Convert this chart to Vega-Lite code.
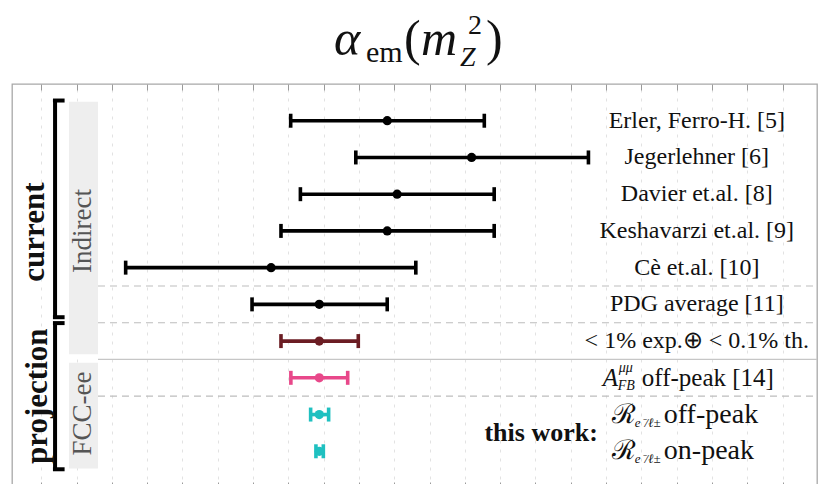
{
  "$schema": "https://vega.github.io/schema/vega-lite/v6.json",
  "width": 805,
  "height": 404,
  "autosize": {"type": "none"},
  "padding": {"left": 12, "top": 84, "right": 2, "bottom": 0},
  "background": "#ffffff",
  "config": {"view": {"stroke": "#a8a8a8", "strokeWidth": 1.3}},
  "resolve": {"axis": {"x": "independent"}},
  "datasets": {
    "est": [
      {"row": 1, "label": "Erler, Ferro-H. [5]", "kind": "current", "lo": 7.065, "mid": 9.80, "hi": 12.55},
      {"row": 2, "label": "Jegerlehner [6]", "kind": "current", "lo": 8.91, "mid": 12.19, "hi": 15.50},
      {"row": 3, "label": "Davier et.al. [8]", "kind": "current", "lo": 7.34, "mid": 10.08, "hi": 12.83},
      {"row": 4, "label": "Keshavarzi et.al. [9]", "kind": "current", "lo": 6.79, "mid": 9.80, "hi": 12.83},
      {"row": 5, "label": "Cè et.al. [10]", "kind": "current", "lo": 2.39, "mid": 6.51, "hi": 10.61},
      {"row": 6, "label": "PDG average [11]", "kind": "current", "lo": 5.97, "mid": 7.875, "hi": 9.80},
      {"row": 7, "label": "< 1% exp.⊕ < 0.1% th.", "kind": "target", "lo": 6.79, "mid": 7.875, "hi": 8.98},
      {"row": 8, "label": "off-peak [14]", "kind": "afb", "lo": 7.07, "mid": 7.875, "hi": 8.68},
      {"row": 9, "label": "off-peak", "kind": "thiswork", "lo": 7.63, "mid": 7.875, "hi": 8.14},
      {"row": 10, "label": "on-peak", "kind": "thiswork", "lo": 7.78, "mid": 7.875, "hi": 7.99}
    ],
    "boxes": [
      {"group": "Indirect", "from": 0.48, "to": 7.36},
      {"group": "FCC-ee", "from": 7.59, "to": 10.47}
    ],
    "brackets": [
      {"group": "current", "from": 0.45, "to": 6.35},
      {"group": "projection", "from": 6.51, "to": 10.49}
    ],
    "dashsep": [{"between": 5.5}, {"between": 6.5}, {"between": 8.5}],
    "solidsep": [{"between": 7.5}],
    "one": [{}]
  },
  "layer": [
    {
      "data": {"name": "boxes"},
      "mark": {"type": "rect", "fill": "#eeeeee"},
      "encoding": {
        "x": {"datum": 0.785, "type": "quantitative", "scale": {"domain": [-0.83, 21.975], "nice": false, "zero": false}, "axis": null},
        "x2": {"datum": 1.606},
        "y": {"field": "from", "type": "quantitative", "scale": {"domain": [0, 11], "reverse": true, "nice": false, "zero": false}, "axis": null},
        "y2": {"field": "to"}
      }
    },
    {
      "data": {"name": "dashsep"},
      "mark": {"type": "rule", "stroke": "#bdbdbd", "strokeWidth": 1.2, "strokeDash": [7, 5]},
      "encoding": {
        "x": {"datum": 1.606, "type": "quantitative", "scale": {"domain": [-0.83, 21.975], "nice": false, "zero": false}, "axis": null},
        "x2": {"datum": 21.975},
        "y": {"field": "between", "type": "quantitative", "scale": {"domain": [0, 11], "reverse": true, "nice": false, "zero": false}, "axis": null}
      }
    },
    {
      "data": {"name": "solidsep"},
      "mark": {"type": "rule", "stroke": "#c6c6c6", "strokeWidth": 1.3},
      "encoding": {
        "x": {"datum": 1.606, "type": "quantitative", "scale": {"domain": [-0.83, 21.975], "nice": false, "zero": false}, "axis": null},
        "x2": {"datum": 21.975},
        "y": {"field": "between", "type": "quantitative", "scale": {"domain": [0, 11], "reverse": true, "nice": false, "zero": false}, "axis": null}
      }
    },
    {
      "data": {"name": "est"},
      "mark": {"type": "rule", "strokeWidth": 3.6},
      "encoding": {
        "x": {"field": "lo", "type": "quantitative", "scale": {"domain": [-0.83, 21.975], "nice": false, "zero": false},
          "axis": {"orient": "bottom", "values": [0,1,2,3,4,5,6,7,8,9,10,11,12,13,14,15,16,17,18,19,20,21], "labels": false, "domain": false, "ticks": true, "tickSize": -6, "tickColor": "#9a9a9a", "tickWidth": 1, "grid": true, "gridColor": "#e2e2e2", "gridDash": [3, 6], "gridWidth": 1, "title": null}},
        "x2": {"field": "hi"},
        "y": {"field": "row", "type": "quantitative", "scale": {"domain": [0, 11], "reverse": true, "nice": false, "zero": false}, "axis": null},
        "color": {"field": "kind", "type": "nominal", "scale": {"domain": ["current", "target", "afb", "thiswork"], "range": ["#000000", "#6b1d23", "#e8488a", "#1fc0c0"]}, "legend": null}
      }
    },
    {
      "data": {"name": "est"},
      "mark": {"type": "tick", "orient": "vertical", "size": 14, "thickness": 3.6, "opacity": 1},
      "encoding": {
        "x": {"field": "lo", "type": "quantitative", "scale": {"domain": [-0.83, 21.975], "nice": false, "zero": false},
          "axis": {"orient": "top", "values": [0,1,2,3,4,5,6,7,8,9,10,11,12,13,14,15,16,17,18,19,20,21], "labels": false, "domain": false, "ticks": true, "tickSize": -6, "tickColor": "#9a9a9a", "tickWidth": 1, "grid": false, "title": null}},
        "y": {"field": "row", "type": "quantitative", "scale": {"domain": [0, 11], "reverse": true, "nice": false, "zero": false}, "axis": null},
        "color": {"field": "kind", "type": "nominal", "scale": {"domain": ["current", "target", "afb", "thiswork"], "range": ["#000000", "#6b1d23", "#e8488a", "#1fc0c0"]}, "legend": null}
      }
    },
    {
      "data": {"name": "est"},
      "mark": {"type": "tick", "orient": "vertical", "size": 14, "thickness": 3.6, "opacity": 1},
      "encoding": {
        "x": {"field": "hi", "type": "quantitative", "scale": {"domain": [-0.83, 21.975], "nice": false, "zero": false}, "axis": null},
        "y": {"field": "row", "type": "quantitative", "scale": {"domain": [0, 11], "reverse": true, "nice": false, "zero": false}, "axis": null},
        "color": {"field": "kind", "type": "nominal", "scale": {"domain": ["current", "target", "afb", "thiswork"], "range": ["#000000", "#6b1d23", "#e8488a", "#1fc0c0"]}, "legend": null}
      }
    },
    {
      "data": {"name": "est"},
      "mark": {"type": "point", "filled": true, "shape": "circle", "opacity": 1},
      "encoding": {
        "x": {"field": "mid", "type": "quantitative", "scale": {"domain": [-0.83, 21.975], "nice": false, "zero": false}, "axis": null},
        "y": {"field": "row", "type": "quantitative", "scale": {"domain": [0, 11], "reverse": true, "nice": false, "zero": false}, "axis": null},
        "color": {"field": "kind", "type": "nominal", "scale": {"domain": ["current", "target", "afb", "thiswork"], "range": ["#000000", "#6b1d23", "#e8488a", "#1fc0c0"]}, "legend": null},
        "size": {"field": "kind", "type": "nominal", "scale": {"domain": ["current", "target", "afb", "thiswork"], "range": [85, 85, 85, 50]}, "legend": null}
      }
    },
    {
      "data": {"name": "est"},
      "transform": [{"filter": "datum.row <= 7"}],
      "mark": {"type": "text", "font": "Liberation Serif", "fontSize": 24, "align": "center", "baseline": "middle", "color": "#111111"},
      "encoding": {
        "x": {"datum": 18.57, "type": "quantitative", "scale": {"domain": [-0.83, 21.975], "nice": false, "zero": false}, "axis": null},
        "y": {"field": "row", "type": "quantitative", "scale": {"domain": [0, 11], "reverse": true, "nice": false, "zero": false}, "axis": null},
        "text": {"field": "label"}
      }
    },
    {
      "data": {"name": "est"},
      "transform": [{"filter": "datum.row == 8"}],
      "mark": {"type": "text", "text": "A", "font": "Liberation Serif", "fontStyle": "italic", "fontSize": 25, "align": "left", "baseline": "middle", "dx": -94, "color": "#111111"},
      "encoding": {
        "x": {"datum": 18.57, "type": "quantitative", "scale": {"domain": [-0.83, 21.975], "nice": false, "zero": false}, "axis": null},
        "y": {"field": "row", "type": "quantitative", "scale": {"domain": [0, 11], "reverse": true, "nice": false, "zero": false}, "axis": null}
      }
    },
    {
      "data": {"name": "est"},
      "transform": [{"filter": "datum.row == 8"}],
      "mark": {"type": "text", "text": "μμ", "font": "Liberation Serif", "fontStyle": "italic", "fontSize": 14, "align": "left", "baseline": "middle", "dx": -78, "dy": -10, "color": "#111111"},
      "encoding": {
        "x": {"datum": 18.57, "type": "quantitative", "scale": {"domain": [-0.83, 21.975], "nice": false, "zero": false}, "axis": null},
        "y": {"field": "row", "type": "quantitative", "scale": {"domain": [0, 11], "reverse": true, "nice": false, "zero": false}, "axis": null}
      }
    },
    {
      "data": {"name": "est"},
      "transform": [{"filter": "datum.row == 8"}],
      "mark": {"type": "text", "text": "FB", "font": "Liberation Serif", "fontStyle": "italic", "fontSize": 14, "align": "left", "baseline": "middle", "dx": -79, "dy": 8, "color": "#111111"},
      "encoding": {
        "x": {"datum": 18.57, "type": "quantitative", "scale": {"domain": [-0.83, 21.975], "nice": false, "zero": false}, "axis": null},
        "y": {"field": "row", "type": "quantitative", "scale": {"domain": [0, 11], "reverse": true, "nice": false, "zero": false}, "axis": null}
      }
    },
    {
      "data": {"name": "est"},
      "transform": [{"filter": "datum.row == 8"}],
      "mark": {"type": "text", "font": "Liberation Serif", "fontSize": 25, "align": "left", "baseline": "middle", "dx": -55, "color": "#111111"},
      "encoding": {
        "x": {"datum": 18.57, "type": "quantitative", "scale": {"domain": [-0.83, 21.975], "nice": false, "zero": false}, "axis": null},
        "y": {"field": "row", "type": "quantitative", "scale": {"domain": [0, 11], "reverse": true, "nice": false, "zero": false}, "axis": null},
        "text": {"field": "label"}
      }
    },
    {
      "data": {"name": "est"},
      "transform": [{"filter": "datum.row >= 9"}],
      "mark": {"type": "text", "text": "ℛ", "font": "DejaVu Serif", "fontSize": 27, "align": "left", "baseline": "middle", "dx": -85, "color": "#111111"},
      "encoding": {
        "x": {"datum": 18.57, "type": "quantitative", "scale": {"domain": [-0.83, 21.975], "nice": false, "zero": false}, "axis": null},
        "y": {"field": "row", "type": "quantitative", "scale": {"domain": [0, 11], "reverse": true, "nice": false, "zero": false}, "axis": null}
      }
    },
    {
      "data": {"name": "est"},
      "transform": [{"filter": "datum.row >= 9"}],
      "mark": {"type": "text", "text": "e⁻/ℓ±", "font": "Liberation Serif", "fontStyle": "italic", "fontSize": 13, "align": "left", "baseline": "middle", "dx": -62, "dy": 8, "color": "#111111"},
      "encoding": {
        "x": {"datum": 18.57, "type": "quantitative", "scale": {"domain": [-0.83, 21.975], "nice": false, "zero": false}, "axis": null},
        "y": {"field": "row", "type": "quantitative", "scale": {"domain": [0, 11], "reverse": true, "nice": false, "zero": false}, "axis": null}
      }
    },
    {
      "data": {"name": "est"},
      "transform": [{"filter": "datum.row >= 9"}],
      "mark": {"type": "text", "font": "Liberation Serif", "fontSize": 28, "align": "left", "baseline": "middle", "dx": -33, "color": "#111111"},
      "encoding": {
        "x": {"datum": 18.57, "type": "quantitative", "scale": {"domain": [-0.83, 21.975], "nice": false, "zero": false}, "axis": null},
        "y": {"field": "row", "type": "quantitative", "scale": {"domain": [0, 11], "reverse": true, "nice": false, "zero": false}, "axis": null},
        "text": {"field": "label"}
      }
    },
    {
      "data": {"name": "one"},
      "mark": {"type": "text", "text": "this work:", "font": "Liberation Serif", "fontWeight": "bold", "fontSize": 26, "align": "center", "baseline": "middle", "color": "#111111"},
      "encoding": {
        "x": {"datum": 14.16, "type": "quantitative", "scale": {"domain": [-0.83, 21.975], "nice": false, "zero": false}, "axis": null},
        "y": {"datum": 9.5, "type": "quantitative", "scale": {"domain": [0, 11], "reverse": true, "nice": false, "zero": false}, "axis": null}
      }
    },
    {
      "data": {"name": "brackets"},
      "mark": {"type": "rule", "stroke": "#000000", "strokeWidth": 4},
      "encoding": {
        "x": {"datum": 0.39, "type": "quantitative", "scale": {"domain": [-0.83, 21.975], "nice": false, "zero": false}, "axis": null},
        "y": {"field": "from", "type": "quantitative", "scale": {"domain": [0, 11], "reverse": true, "nice": false, "zero": false}, "axis": null},
        "y2": {"field": "to"}
      }
    },
    {
      "data": {"name": "brackets"},
      "mark": {"type": "rule", "stroke": "#000000", "strokeWidth": 4},
      "encoding": {
        "x": {"datum": 0.33, "type": "quantitative", "scale": {"domain": [-0.83, 21.975], "nice": false, "zero": false}, "axis": null},
        "x2": {"datum": 0.66},
        "y": {"field": "from", "type": "quantitative", "scale": {"domain": [0, 11], "reverse": true, "nice": false, "zero": false}, "axis": null}
      }
    },
    {
      "data": {"name": "brackets"},
      "mark": {"type": "rule", "stroke": "#000000", "strokeWidth": 4},
      "encoding": {
        "x": {"datum": 0.33, "type": "quantitative", "scale": {"domain": [-0.83, 21.975], "nice": false, "zero": false}, "axis": null},
        "x2": {"datum": 0.66},
        "y": {"field": "to", "type": "quantitative", "scale": {"domain": [0, 11], "reverse": true, "nice": false, "zero": false}, "axis": null}
      }
    },
    {
      "data": {"name": "one"},
      "mark": {"type": "text", "text": "current", "font": "Liberation Serif", "fontWeight": "bold", "fontSize": 31, "angle": 270, "align": "center", "baseline": "middle", "color": "#111111"},
      "encoding": {
        "x": {"datum": -0.18, "type": "quantitative", "scale": {"domain": [-0.83, 21.975], "nice": false, "zero": false}, "axis": null},
        "y": {"datum": 4.03, "type": "quantitative", "scale": {"domain": [0, 11], "reverse": true, "nice": false, "zero": false}, "axis": null}
      }
    },
    {
      "data": {"name": "one"},
      "mark": {"type": "text", "text": "projection", "font": "Liberation Serif", "fontWeight": "bold", "fontSize": 31, "angle": 270, "align": "center", "baseline": "middle", "color": "#111111"},
      "encoding": {
        "x": {"datum": -0.1, "type": "quantitative", "scale": {"domain": [-0.83, 21.975], "nice": false, "zero": false}, "axis": null},
        "y": {"datum": 8.5, "type": "quantitative", "scale": {"domain": [0, 11], "reverse": true, "nice": false, "zero": false}, "axis": null}
      }
    },
    {
      "data": {"name": "one"},
      "mark": {"type": "text", "text": "Indirect", "font": "Liberation Serif", "fontSize": 27, "angle": 270, "align": "center", "baseline": "middle", "color": "#555555"},
      "encoding": {
        "x": {"datum": 1.19, "type": "quantitative", "scale": {"domain": [-0.83, 21.975], "nice": false, "zero": false}, "axis": null},
        "y": {"datum": 4.0, "type": "quantitative", "scale": {"domain": [0, 11], "reverse": true, "nice": false, "zero": false}, "axis": null}
      }
    },
    {
      "data": {"name": "one"},
      "mark": {"type": "text", "text": "FCC-ee", "font": "Liberation Serif", "fontSize": 27, "angle": 270, "align": "center", "baseline": "middle", "color": "#555555"},
      "encoding": {
        "x": {"datum": 1.19, "type": "quantitative", "scale": {"domain": [-0.83, 21.975], "nice": false, "zero": false}, "axis": null},
        "y": {"datum": 8.97, "type": "quantitative", "scale": {"domain": [0, 11], "reverse": true, "nice": false, "zero": false}, "axis": null}
      }
    },
    {
      "data": {"name": "one"},
      "mark": {"type": "text", "text": "α", "font": "Liberation Serif", "fontStyle": "italic", "fontSize": 50, "align": "left", "baseline": "alphabetic", "color": "#111111"},
      "encoding": {
        "x": {"datum": 8.29, "type": "quantitative", "scale": {"domain": [-0.83, 21.975], "nice": false, "zero": false}, "axis": null},
        "y": {"datum": -0.79, "type": "quantitative", "scale": {"domain": [0, 11], "reverse": true, "nice": false, "zero": false}, "axis": null}
      }
    },
    {
      "data": {"name": "one"},
      "mark": {"type": "text", "text": "em", "font": "Liberation Serif", "fontSize": 30, "align": "left", "baseline": "alphabetic", "color": "#111111"},
      "encoding": {
        "x": {"datum": 9.2, "type": "quantitative", "scale": {"domain": [-0.83, 21.975], "nice": false, "zero": false}, "axis": null},
        "y": {"datum": -0.6, "type": "quantitative", "scale": {"domain": [0, 11], "reverse": true, "nice": false, "zero": false}, "axis": null}
      }
    },
    {
      "data": {"name": "one"},
      "mark": {"type": "text", "text": "(", "font": "Liberation Serif", "fontSize": 50, "align": "left", "baseline": "alphabetic", "color": "#111111"},
      "encoding": {
        "x": {"datum": 10.275, "type": "quantitative", "scale": {"domain": [-0.83, 21.975], "nice": false, "zero": false}, "axis": null},
        "y": {"datum": -0.79, "type": "quantitative", "scale": {"domain": [0, 11], "reverse": true, "nice": false, "zero": false}, "axis": null}
      }
    },
    {
      "data": {"name": "one"},
      "mark": {"type": "text", "text": "m", "font": "Liberation Serif", "fontStyle": "italic", "fontSize": 50, "align": "left", "baseline": "alphabetic", "color": "#111111"},
      "encoding": {
        "x": {"datum": 10.756, "type": "quantitative", "scale": {"domain": [-0.83, 21.975], "nice": false, "zero": false}, "axis": null},
        "y": {"datum": -0.79, "type": "quantitative", "scale": {"domain": [0, 11], "reverse": true, "nice": false, "zero": false}, "axis": null}
      }
    },
    {
      "data": {"name": "one"},
      "mark": {"type": "text", "text": "2", "font": "Liberation Serif", "fontSize": 28, "align": "left", "baseline": "alphabetic", "color": "#111111"},
      "encoding": {
        "x": {"datum": 12.09, "type": "quantitative", "scale": {"domain": [-0.83, 21.975], "nice": false, "zero": false}, "axis": null},
        "y": {"datum": -1.362, "type": "quantitative", "scale": {"domain": [0, 11], "reverse": true, "nice": false, "zero": false}, "axis": null}
      }
    },
    {
      "data": {"name": "one"},
      "mark": {"type": "text", "text": "Z", "font": "Liberation Serif", "fontStyle": "italic", "fontSize": 28, "align": "left", "baseline": "alphabetic", "color": "#111111"},
      "encoding": {
        "x": {"datum": 11.86, "type": "quantitative", "scale": {"domain": [-0.83, 21.975], "nice": false, "zero": false}, "axis": null},
        "y": {"datum": -0.49, "type": "quantitative", "scale": {"domain": [0, 11], "reverse": true, "nice": false, "zero": false}, "axis": null}
      }
    },
    {
      "data": {"name": "one"},
      "mark": {"type": "text", "text": ")", "font": "Liberation Serif", "fontSize": 50, "align": "left", "baseline": "alphabetic", "color": "#111111"},
      "encoding": {
        "x": {"datum": 12.6, "type": "quantitative", "scale": {"domain": [-0.83, 21.975], "nice": false, "zero": false}, "axis": null},
        "y": {"datum": -0.79, "type": "quantitative", "scale": {"domain": [0, 11], "reverse": true, "nice": false, "zero": false}, "axis": null}
      }
    }
  ]
}
